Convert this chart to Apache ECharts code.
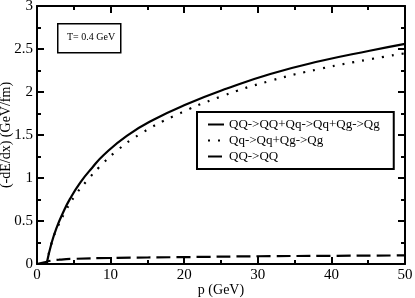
<!DOCTYPE html>
<html>
<head>
<meta charset="utf-8">
<script src="https://cdn.jsdelivr.net/npm/echarts@6/dist/echarts.min.js"></script>
<style>html,body{margin:0;padding:0;background:#fff}#c{width:415px;height:298px}</style>
</head>
<body>
<div id="c"></div>
<script>
// Data
const xTicks = [0, 10, 20, 30, 40, 50];
const yTicks = [0, 0.5, 1, 1.5, 2, 2.5, 3];
const seriesNames = ['QQ->QQ+Qq->Qq+Qg->Qg', 'Qq->Qq+Qg->Qg', 'QQ->QQ'];
const pSolid = [1.3, 2.0, 2.7, 3.5, 4.5, 5.9, 7.5, 9.1, 12.2, 15.9, 20.4, 25.8, 31.7, 38.5, 45.2, 50];
const vSolid = [0, 0.25, 0.43, 0.59, 0.76, 0.95, 1.12, 1.27, 1.49, 1.68, 1.86, 2.04, 2.21, 2.36, 2.48, 2.56];
const pDot = [1.3, 2.0, 2.8, 3.85, 5.2, 6.8, 8.5, 10.6, 14.0, 18.6, 25.1, 31.7, 38.5, 45.2, 50];
const vDot = [0, 0.25, 0.43, 0.61, 0.80, 0.97, 1.13, 1.30, 1.51, 1.72, 1.95, 2.13, 2.27, 2.38, 2.45];
const pDash = [0, 1, 2, 3, 5, 10, 20, 30, 40, 50];
const vDash = [0, 0.02, 0.04, 0.05, 0.06, 0.07, 0.08, 0.09, 0.095, 0.10];
const boxText = 'T= 0.4 GeV';

const FONT = '"Liberation Serif", "Times New Roman", serif';
const pair = (xs, ys) => xs.map((x, i) => [x, ys[i]]);

function axisBase(extra) {
  return Object.assign({
    type: 'value',
    nameMoveOverlap: false,
    axisLine: { show: true, onZero: false, lineStyle: { color: '#000', width: 2 } },
    axisTick: { show: true, inside: true, length: 7, lineStyle: { color: '#000', width: 2 } },
    minorTick: { show: true, splitNumber: 2, length: 4, lineStyle: { color: '#000', width: 2 } },
    splitLine: { show: false },
    axisLabel: { color: '#000', fontFamily: FONT, fontSize: 15 }
  }, extra);
}

const chart = echarts.init(document.getElementById('c'), null, { renderer: 'canvas' });
chart.setOption({
  animation: false,
  backgroundColor: '#fff',
  grid: { left: 37, right: 10, top: 6, bottom: 34, containLabel: false, outerBoundsMode: 'none' },
  xAxis: [
    axisBase({ position: 'bottom', min: xTicks[0], max: xTicks[xTicks.length - 1], interval: 10,
      axisLabel: { color: '#000', fontFamily: FONT, fontSize: 15, margin: 4 },
      name: 'p (GeV)', nameLocation: 'middle', nameGap: 19,
      nameTextStyle: { color: '#000', fontFamily: FONT, fontSize: 14 } }),
    axisBase({ position: 'top', min: xTicks[0], max: xTicks[xTicks.length - 1], interval: 10,
      axisLabel: { show: false } })
  ],
  yAxis: [
    axisBase({ position: 'left', min: yTicks[0], max: yTicks[yTicks.length - 1], interval: 0.5,
      axisLabel: { color: '#000', fontFamily: FONT, fontSize: 15, margin: 4 },
      name: '(-dE/dx) (GeV/fm)', nameLocation: 'middle', nameGap: 24,
      nameTextStyle: { color: '#000', fontFamily: FONT, fontSize: 14 } }),
    axisBase({ position: 'right', min: yTicks[0], max: yTicks[yTicks.length - 1], interval: 0.5,
      axisLabel: { show: false } })
  ],
  legend: {
    show: true,
    orient: 'vertical',
    left: 197, top: 112,
    padding: [6, 14, 6, 10],
    itemGap: 3,
    itemWidth: 16, itemHeight: 14,
    borderColor: '#000', borderWidth: 2,
    backgroundColor: '#fff',
    itemStyle: { opacity: 0 },
    textStyle: { color: '#000', fontFamily: FONT, fontSize: 13 },
    data: seriesNames
  },
  graphic: [
    { type: 'rect', left: 57, top: 23, shape: { width: 63, height: 29 },
      style: { fill: '#fff', stroke: '#000', lineWidth: 1.5 }, z: 10 },
    { type: 'text', left: 67, top: 32, style: { text: boxText, font: '10px ' + FONT, fill: '#000' }, z: 11 }
  ],
  series: [
    { name: seriesNames[0], type: 'line', data: pair(pSolid, vSolid), showSymbol: false, symbol: 'none',
      smooth: 0.5, lineStyle: { color: '#000', width: 2.2, type: 'solid' }, itemStyle: { color: '#000' } },
    { name: seriesNames[1], type: 'line', data: pair(pDot, vDot), showSymbol: false, symbol: 'none',
      smooth: 0.5, lineStyle: { color: '#000', width: 2.2, type: [2, 8] }, itemStyle: { color: '#000' } },
    { name: seriesNames[2], type: 'line', data: pair(pDash, vDash), showSymbol: false, symbol: 'none',
      smooth: 0.5, lineStyle: { color: '#000', width: 2.2, type: [14, 6] }, itemStyle: { color: '#000' } }
  ]
});
</script>
</body>
</html>
